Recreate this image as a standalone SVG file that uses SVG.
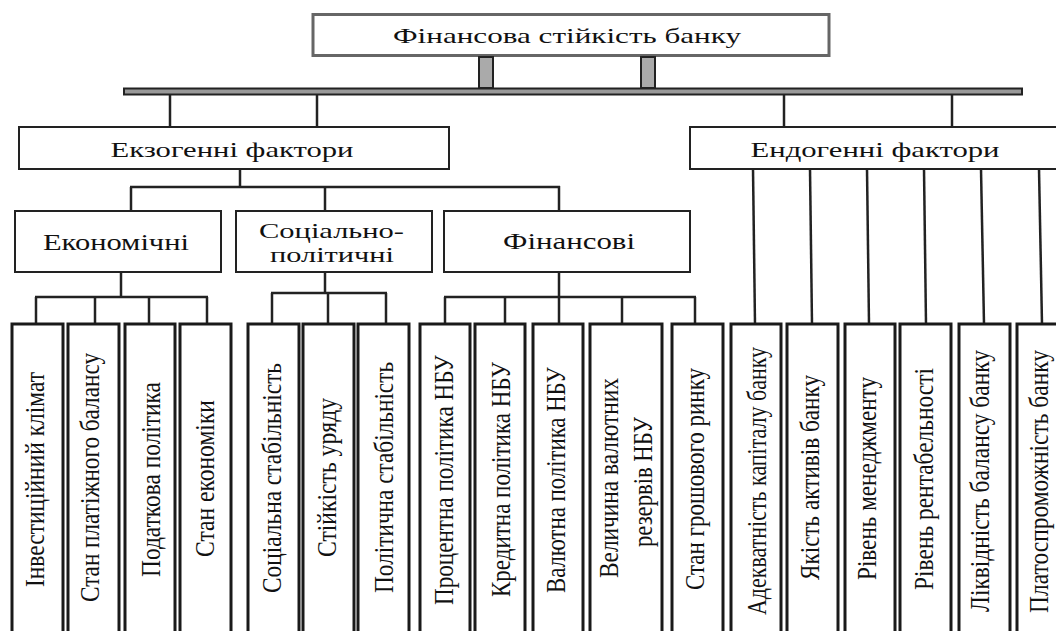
<svg xmlns="http://www.w3.org/2000/svg" width="1056" height="631" viewBox="0 0 1056 631">
<style>
.box{fill:#fff;stroke:#222;stroke-width:2}
.top{fill:#fff;stroke:#666;stroke-width:3}
.leaf{fill:#fff;stroke:#1a1a1a;stroke-width:3}
.pil{fill:#aaa;stroke:#222;stroke-width:2}
.bar{fill:#999;stroke:#222;stroke-width:2}
.c line{stroke:#222;stroke-width:2.5;fill:none}
.t{font-family:"Liberation Serif","DejaVu Serif",serif;fill:#111;text-anchor:middle}
.v{font-family:"Liberation Serif","DejaVu Serif",serif;fill:#111;font-size:28px}
</style>
<rect width="1056" height="631" fill="#fff"/>
<g id="connectors" class="c">
<line x1="170" y1="95" x2="170" y2="127"/>
<line x1="317" y1="95" x2="317" y2="127"/>
<line x1="784" y1="95" x2="784" y2="127"/>
<line x1="952" y1="95" x2="952" y2="127"/>
<line x1="240" y1="169" x2="240" y2="187"/>
<line x1="130" y1="187" x2="560" y2="187"/>
<line x1="131" y1="187" x2="131" y2="211"/>
<line x1="325" y1="187" x2="325" y2="211"/>
<line x1="559" y1="186" x2="559" y2="211"/>
<line x1="121" y1="272" x2="121" y2="297"/>
<line x1="35" y1="297" x2="208" y2="297"/>
<line x1="36" y1="297" x2="36" y2="324"/>
<line x1="95" y1="297" x2="95" y2="324"/>
<line x1="149" y1="297" x2="149" y2="324"/>
<line x1="207" y1="297" x2="207" y2="324"/>
<line x1="325" y1="272" x2="325" y2="293"/>
<line x1="271" y1="293" x2="387" y2="293"/>
<line x1="272" y1="293" x2="272" y2="324"/>
<line x1="328" y1="293" x2="328" y2="324"/>
<line x1="386" y1="293" x2="386" y2="324"/>
<line x1="559" y1="272" x2="559" y2="297"/>
<line x1="444" y1="297" x2="696" y2="297"/>
<line x1="445" y1="297" x2="445" y2="324"/>
<line x1="505" y1="297" x2="505" y2="324"/>
<line x1="559" y1="297" x2="559" y2="324"/>
<line x1="622" y1="297" x2="622" y2="324"/>
<line x1="695" y1="297" x2="695" y2="324"/>
<line x1="753" y1="169" x2="755" y2="324"/>
<line x1="810" y1="169" x2="812" y2="324"/>
<line x1="867" y1="169" x2="869" y2="324"/>
<line x1="924" y1="169" x2="926" y2="324"/>
<line x1="981" y1="169" x2="984" y2="324"/>
<line x1="1039" y1="169" x2="1042" y2="324"/>
</g>
<g id="root">
<rect class="top" x="313" y="14.5" width="516" height="41"/>
<text class="t" x="567" y="43" font-size="21" textLength="348" lengthAdjust="spacingAndGlyphs">Фінансова стійкість банку</text>
</g>
<g id="pillars">
<rect class="pil" x="479" y="57" width="14" height="31"/>
<rect class="pil" x="641" y="57" width="14" height="31"/>
<rect class="bar" x="124" y="88.5" width="898" height="6"/>
</g>
<g id="exo">
<rect class="box" x="19" y="127" width="430" height="42"/>
<text class="t" x="232" y="157" font-size="22" textLength="243" lengthAdjust="spacingAndGlyphs">Екзогенні фактори</text>
</g>
<g id="endo">
<rect class="box" x="690" y="127" width="380" height="42"/>
<text class="t" x="875" y="157" font-size="22" textLength="249" lengthAdjust="spacingAndGlyphs">Ендогенні фактори</text>
</g>
<g id="econ">
<rect class="box" x="15" y="211" width="206" height="61"/>
<text class="t" x="116" y="250" font-size="24" textLength="146" lengthAdjust="spacingAndGlyphs">Економічні</text>
</g>
<g id="socpol">
<rect class="box" x="236" y="211" width="196" height="61"/>
<text class="t" x="331.5" y="238" font-size="22" textLength="145" lengthAdjust="spacingAndGlyphs">Соціально-</text>
<text class="t" x="332" y="262" font-size="22" textLength="124" lengthAdjust="spacingAndGlyphs">політичні</text>
</g>
<g id="fin">
<rect class="box" x="444" y="211" width="246" height="61"/>
<text class="t" x="569" y="249" font-size="24" textLength="132" lengthAdjust="spacingAndGlyphs">Фінансові</text>
</g>
<g id="l1"><rect class="leaf" x="12" y="324" width="51" height="320"/><text class="v" transform="translate(43.5 587) rotate(-90)" textLength="215" lengthAdjust="spacingAndGlyphs">Інвестиційний клімат</text></g>
<g id="l2"><rect class="leaf" x="68" y="324" width="51" height="320"/><text class="v" transform="translate(98.5 602) rotate(-90)" textLength="249" lengthAdjust="spacingAndGlyphs">Стан платіжного балансу</text></g>
<g id="l3"><rect class="leaf" x="125" y="324" width="50" height="320"/><text class="v" transform="translate(159.5 577) rotate(-90)" textLength="195" lengthAdjust="spacingAndGlyphs">Податкова політика</text></g>
<g id="l4"><rect class="leaf" x="180" y="324" width="51" height="320"/><text class="v" transform="translate(213.5 557) rotate(-90)" textLength="157" lengthAdjust="spacingAndGlyphs">Стан економіки</text></g>
<g id="l5"><rect class="leaf" x="248" y="324" width="51" height="320"/><text class="v" transform="translate(280.5 593) rotate(-90)" textLength="230" lengthAdjust="spacingAndGlyphs">Соціальна стабільність</text></g>
<g id="l6"><rect class="leaf" x="303" y="324" width="51" height="320"/><text class="v" transform="translate(335.5 557) rotate(-90)" textLength="159" lengthAdjust="spacingAndGlyphs">Стійкість уряду</text></g>
<g id="l7"><rect class="leaf" x="358" y="324" width="51" height="320"/><text class="v" transform="translate(392.5 593) rotate(-90)" textLength="231" lengthAdjust="spacingAndGlyphs">Політична стабільність</text></g>
<g id="l8"><rect class="leaf" x="420" y="324" width="50" height="320"/><text class="v" transform="translate(452.5 605) rotate(-90)" textLength="250" lengthAdjust="spacingAndGlyphs">Процентна політика НБУ</text></g>
<g id="l9"><rect class="leaf" x="475" y="324" width="50" height="320"/><text class="v" transform="translate(509.5 597) rotate(-90)" textLength="235" lengthAdjust="spacingAndGlyphs">Кредитна політика НБУ</text></g>
<g id="l10"><rect class="leaf" x="533" y="324" width="50" height="320"/><text class="v" transform="translate(564.5 593) rotate(-90)" textLength="226" lengthAdjust="spacingAndGlyphs">Валютна політика НБУ</text></g>
<g id="l11"><rect class="leaf" x="590" y="324" width="72" height="320"/><text class="v" transform="translate(618 578) rotate(-90)" textLength="200" lengthAdjust="spacingAndGlyphs">Величина валютних</text><text class="v" transform="translate(652 547) rotate(-90)" textLength="130" lengthAdjust="spacingAndGlyphs">резервів НБУ</text></g>
<g id="l12"><rect class="leaf" x="672" y="324" width="51" height="320"/><text class="v" transform="translate(703.5 590) rotate(-90)" textLength="222" lengthAdjust="spacingAndGlyphs">Стан грошового ринку</text></g>
<g id="l13"><rect class="leaf" x="731" y="324" width="50" height="320"/><text class="v" transform="translate(765.5 615) rotate(-90)" textLength="268" lengthAdjust="spacingAndGlyphs">Адекватність капіталу банку</text></g>
<g id="l14"><rect class="leaf" x="787" y="324" width="51" height="320"/><text class="v" transform="translate(818.5 580) rotate(-90)" textLength="205" lengthAdjust="spacingAndGlyphs">Якість активів банку</text></g>
<g id="l15"><rect class="leaf" x="845" y="324" width="50" height="320"/><text class="v" transform="translate(875.5 580) rotate(-90)" textLength="203" lengthAdjust="spacingAndGlyphs">Рівень менеджменту</text></g>
<g id="l16"><rect class="leaf" x="900" y="324" width="51" height="320"/><text class="v" transform="translate(932.5 590) rotate(-90)" textLength="222" lengthAdjust="spacingAndGlyphs">Рівень рентабельності</text></g>
<g id="l17"><rect class="leaf" x="959" y="324" width="51" height="320"/><text class="v" transform="translate(988.5 612) rotate(-90)" textLength="262" lengthAdjust="spacingAndGlyphs">Ліквідність балансу банку</text></g>
<g id="l18"><rect class="leaf" x="1017" y="324" width="51" height="320"/><text class="v" transform="translate(1047.5 613) rotate(-90)" textLength="263" lengthAdjust="spacingAndGlyphs">Платоспроможність банку</text></g>
</svg>
